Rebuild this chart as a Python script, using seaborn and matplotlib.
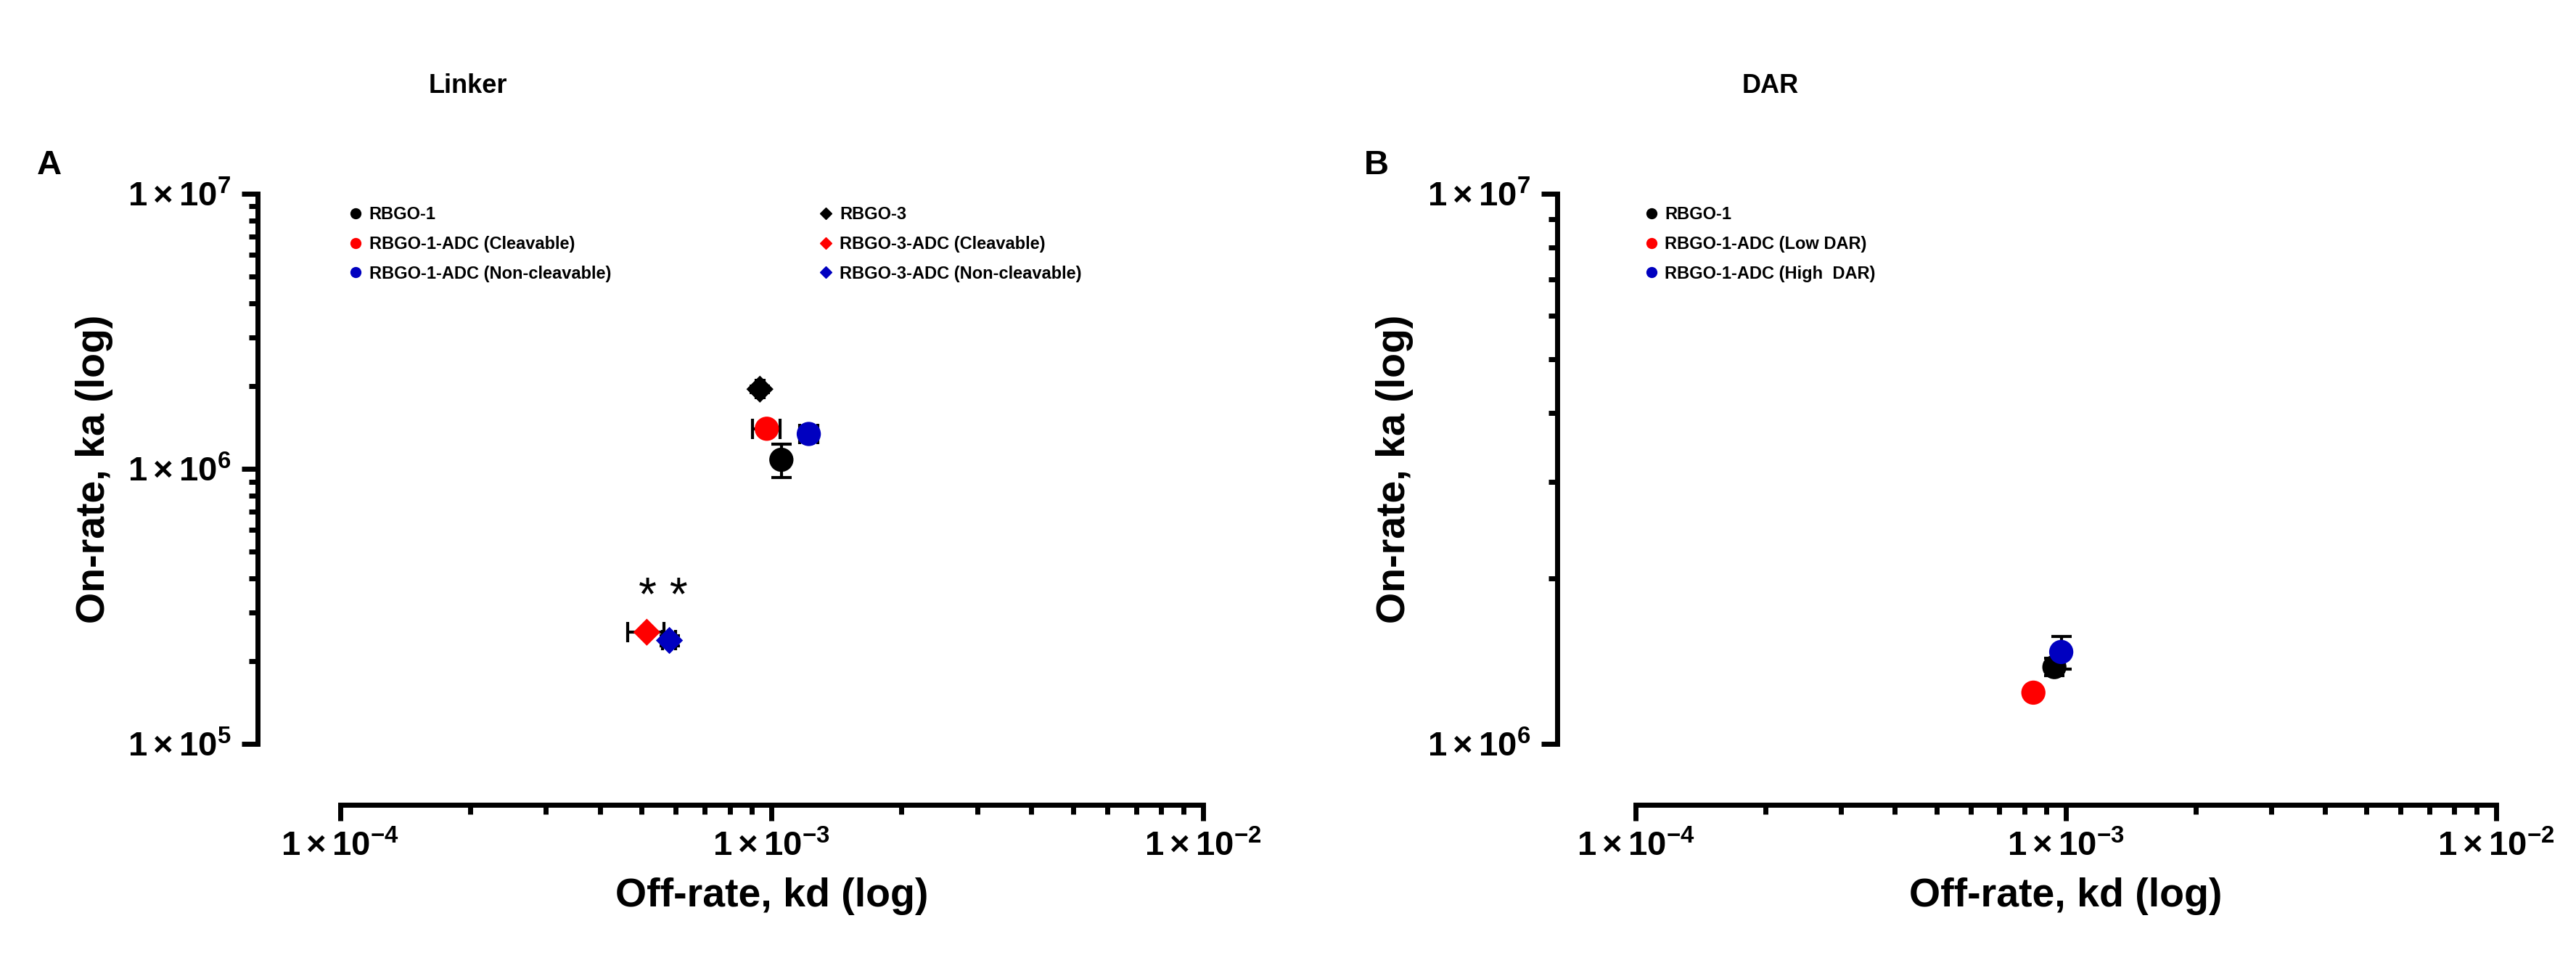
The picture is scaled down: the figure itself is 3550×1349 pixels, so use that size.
import matplotlib
matplotlib.use("Agg")
import matplotlib.pyplot as plt
import seaborn as sns
import pandas as pd
import numpy as np
from matplotlib.lines import Line2D
from matplotlib.ticker import LogLocator, FixedLocator, NullFormatter

plt.rcParams["font.family"] = "Liberation Sans"
plt.rcParams["font.weight"] = "bold"
plt.rcParams["mathtext.fontset"] = "custom"
plt.rcParams["mathtext.rm"] = "Liberation Sans:bold"
plt.rcParams["mathtext.bf"] = "Liberation Sans:bold"
plt.rcParams["mathtext.it"] = "Liberation Sans:bold"

# ---- Panel A data (Linker) ----
a_names = ["RBGO-1", "RBGO-1-ADC (Cleavable)", "RBGO-1-ADC (Non-cleavable)",
           "RBGO-3", "RBGO-3-ADC (Cleavable)", "RBGO-3-ADC (Non-cleavable)"]
a_kd = [1.054e-3, 9.75e-4, 1.22e-3, 9.4e-4, 5.14e-4, 5.8e-4]
a_ka = [1.08e6, 1.40e6, 1.34e6, 1.95e6, 2.55e5, 2.38e5]
a_kd_err = [0.0, 7e-5, 6e-5, 2e-5, 5e-5, 2e-5]
a_ka_err = [1.5e5, 0.0, 6e4, 5e4, 0.0, 1e4]
a_colors = ["#000000", "#ff0000", "#0000c0", "#000000", "#ff0000", "#0000c0"]
a_markers = ["o", "o", "o", "D", "D", "D"]

# ---- Panel B data (DAR) ----
b_names = ["RBGO-1", "RBGO-1-ADC (Low DAR)", "RBGO-1-ADC (High  DAR)"]
b_kd = [9.4e-4, 8.4e-4, 9.75e-4]
b_ka = [1.38e6, 1.24e6, 1.47e6]
b_kd_err = [2e-5, 0.0, 1e-5]
b_ka_err = [5e4, 0.0, 1e5]
b_colors = ["#000000", "#ff0000", "#0000c0"]
b_markers = ["o", "o", "o"]

xticks = [1e-4, 1e-3, 1e-2]
xticklabels = [r"$1\times10^{-4}$", r"$1\times10^{-3}$", r"$1\times10^{-2}$"]
a_yticks = [1e5, 1e6, 1e7]
a_yticklabels = [r"$1\times10^{5}$", r"$1\times10^{6}$", r"$1\times10^{7}$"]
b_yticks = [1e6, 1e7]
b_yticklabels = [r"$1\times10^{6}$", r"$1\times10^{7}$"]

fig = plt.figure(figsize=(35.5, 13.49), dpi=100)
axA = fig.add_axes([0.132, 0.240, 0.335, 0.562])
axB = fig.add_axes([0.635, 0.240, 0.334, 0.562])


def draw(ax, names, kd, ka, kde, kae, colors, markers, yticks, ylabels, ylim, left_off):
    df = pd.DataFrame({"name": names, "kd": kd, "ka": ka})
    for i, n in enumerate(names):
        ax.errorbar(kd[i], ka[i], xerr=kde[i] if kde[i] else None,
                    yerr=kae[i] if kae[i] else None, fmt="none",
                    ecolor="black", elinewidth=3, capsize=10, capthick=3, zorder=2)
    for i, n in enumerate(names):
        sub = df[df["name"] == n]
        sns.scatterplot(data=sub, x="kd", y="ka", ax=ax, color=colors[i],
                        marker=markers[i], s=(24 if markers[i] == "o" else 19) ** 2,
                        edgecolor="none", zorder=3, legend=False)
    ax.set_xscale("log")
    ax.set_yscale("log")
    ax.set_xlim(1e-4, 1e-2)
    ax.set_ylim(*ylim)
    ax.xaxis.set_major_locator(FixedLocator(xticks))
    ax.set_xticklabels(xticklabels)
    ax.yaxis.set_major_locator(FixedLocator(yticks))
    ax.set_yticklabels(ylabels)
    ax.xaxis.set_minor_locator(LogLocator(base=10, subs=np.arange(2, 10)))
    ax.yaxis.set_minor_locator(LogLocator(base=10, subs=np.arange(2, 10)))
    ax.xaxis.set_minor_formatter(NullFormatter())
    ax.yaxis.set_minor_formatter(NullFormatter())
    ax.tick_params(which="major", length=16, width=5, labelsize=34, pad=10)
    ax.tick_params(which="minor", length=9, width=5)
    for s in ["top", "right"]:
        ax.spines[s].set_visible(False)
    for s in ["left", "bottom"]:
        ax.spines[s].set_linewidth(5)
    ax.spines["left"].set_position(("outward", left_off))
    ax.spines["bottom"].set_position(("outward", 60))
    ax.set_xlabel("Off-rate, kd (log)", fontsize=40, fontweight="bold", labelpad=14)
    ax.set_ylabel("On-rate, ka (log)", fontsize=40, fontweight="bold", labelpad=14)


draw(axA, a_names, a_kd, a_ka, a_kd_err, a_ka_err, a_colors, a_markers,
     a_yticks, a_yticklabels, (1e5, 1e7), 82)
draw(axB, b_names, b_kd, b_ka, b_kd_err, b_ka_err, b_colors, b_markers,
     b_yticks, b_yticklabels, (1e6, 1e7), 78)

axA.text(5.6e-4, 3.4e5, "* *", fontsize=46, ha="center", va="center", fontweight="normal")


def handles(names, colors, markers):
    return [Line2D([], [], ls="none", marker=m, color=c, markersize=10 if m == "o" else 8,
                   label=n) for n, c, m in zip(names, colors, markers)]


legkw = dict(frameon=False, fontsize=17, handletextpad=0.3, labelspacing=0.75,
             borderaxespad=0, handlelength=1.0)
hA = handles(a_names, a_colors, a_markers)
l1 = axA.legend(handles=hA[:3], loc="upper left", bbox_to_anchor=(0.0, 0.99), **legkw)
axA.add_artist(l1)
axA.legend(handles=hA[3:], loc="upper left", bbox_to_anchor=(0.545, 0.99), **legkw)
axB.legend(handles=handles(b_names, b_colors, b_markers), loc="upper left",
           bbox_to_anchor=(0.0, 0.99), **legkw)

fig.text(645 / 3550, 1 - 118 / 1349, "Linker", fontsize=26, fontweight="bold", ha="center", va="center")
fig.text(2440 / 3550, 1 - 118 / 1349, "DAR", fontsize=26, fontweight="bold", ha="center", va="center")
fig.text(68 / 3550, 1 - 228 / 1349, "A", fontsize=34, fontweight="bold", ha="center", va="center")
fig.text(1897 / 3550, 1 - 228 / 1349, "B", fontsize=34, fontweight="bold", ha="center", va="center")

fig.savefig("out.png", dpi=100, facecolor="white")
